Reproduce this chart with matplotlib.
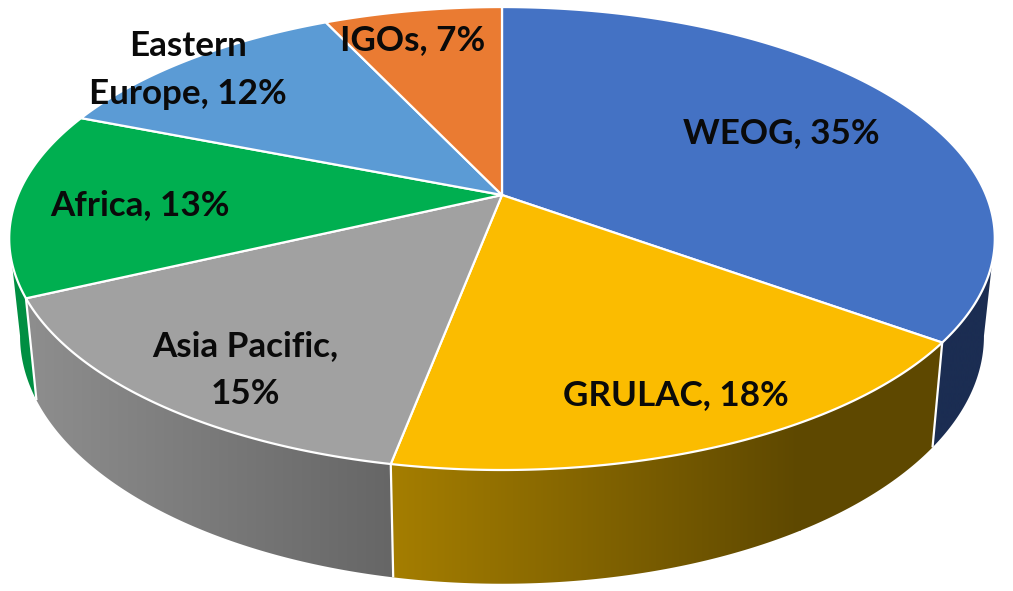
import numpy as np
import matplotlib
matplotlib.use('Agg')
import matplotlib.pyplot as plt
from matplotlib.colors import LinearSegmentedColormap
from matplotlib.patches import Polygon

# Slice data, clockwise from 12 o'clock
categories = ['WEOG', 'GRULAC', 'Asia Pacific', 'Africa', 'Eastern Europe', 'IGOs']
values = [35, 18, 15, 13, 12, 7]
labels = ['WEOG, 35%', 'GRULAC, 18%', 'Asia Pacific,\n15%', 'Africa, 13%', 'Eastern\nEurope, 12%', 'IGOs, 7%']

# Styles
top_colors = ['#4472C4', '#FBBC00', '#A1A1A1', '#00AF50', '#5B9BD5', '#EA7B32']
wall_left = ['#1B2D52', '#A57E00', '#8E8E8E', '#008F42', '#5B9BD5', '#EA7B32']
wall_right = ['#1B2D52', '#5E4800', '#666666', '#008F42', '#5B9BD5', '#EA7B32']
label_xy = [(781, 133), (676, 395), (245, 370), (140, 205), (188, 70), (413, 40)]

# Perspective of the disc
cx, cy = 502., 195.
b = 484.          # horizontal radius
a = 223.3         # vertical radius
k = 0.188         # perspective strength
x_shrink = 0.978  # bottom disc vs top disc
y_stretch = 1.07
bottom_cy = 289.5


def top_xy(theta):
    u, v = np.sin(theta), np.cos(theta)
    d = 1 + k * v
    return cx + b * u / d, cy - a * v / d


def bottom_xy(theta):
    x, y = top_xy(theta)
    return cx + x_shrink * (x - cx), bottom_cy + y_stretch * (y - cy)


fig = plt.figure(figsize=(10.13, 5.91), dpi=100)
ax = fig.add_axes([0, 0, 1, 1])

edges = np.deg2rad(np.cumsum([0] + values) * 3.6)

# Front walls: only the arc facing the viewer (100.8 to 259.2 deg)
front0, front1 = np.deg2rad(100.8), np.deg2rad(259.2)
for i in range(len(values)):
    t0, t1 = max(edges[i], front0), min(edges[i + 1], front1)
    if t1 <= t0:
        continue
    th = np.linspace(t0, t1, 120)
    xt, yt = top_xy(th)
    xb, yb = bottom_xy(th)
    poly = Polygon(np.column_stack([np.r_[xt, xb[::-1]], np.r_[yt, yb[::-1]]]),
                   closed=True, facecolor='none', edgecolor='none')
    ax.add_patch(poly)
    cmap = LinearSegmentedColormap.from_list('w%d' % i, [wall_left[i], wall_right[i]])
    x_lo, x_hi = min(xt.min(), xb.min()), max(xt.max(), xb.max())
    if categories[i] == 'GRULAC':
        x_hi = 800.
    im = ax.imshow(np.linspace(0, 1, 256)[None, :], cmap=cmap, aspect='auto',
                   extent=(x_lo, x_hi, 600, 0), zorder=1, interpolation='bilinear')
    if categories[i] == 'GRULAC':
        ax.imshow(np.ones((1, 2)), cmap=cmap, vmin=0, vmax=1, aspect='auto',
                  extent=(x_hi, 1013, 600, 0), zorder=1).set_clip_path(poly)
    im.set_clip_path(poly)

# White lines down the wall at slice boundaries
for e in edges[1:4]:
    xt, yt = top_xy(e)
    xb, yb = bottom_xy(e)
    ax.plot([xt, xb], [yt, yb], color='white', lw=1.6, zorder=2, solid_capstyle='butt')

# Top face
for i in range(len(values)):
    th = np.linspace(edges[i], edges[i + 1], 200)
    x, y = top_xy(th)
    ax.add_patch(Polygon(np.column_stack([np.r_[cx, x], np.r_[cy, y]]), closed=True,
                         facecolor=top_colors[i], edgecolor='white', lw=1.6,
                         joinstyle='round', zorder=3))

for lab, (lx, ly) in zip(labels, label_xy):
    ax.text(lx, ly, lab, ha='center', va='center', ma='center', fontsize=25.2,
            family='Lato', fontweight='bold', color='#0a0a0a', linespacing=1.58, zorder=4)

ax.set_xlim(0, 1013)
ax.set_ylim(591, 0)
ax.axis('off')
fig.savefig('out.png', dpi=100, facecolor='white')
